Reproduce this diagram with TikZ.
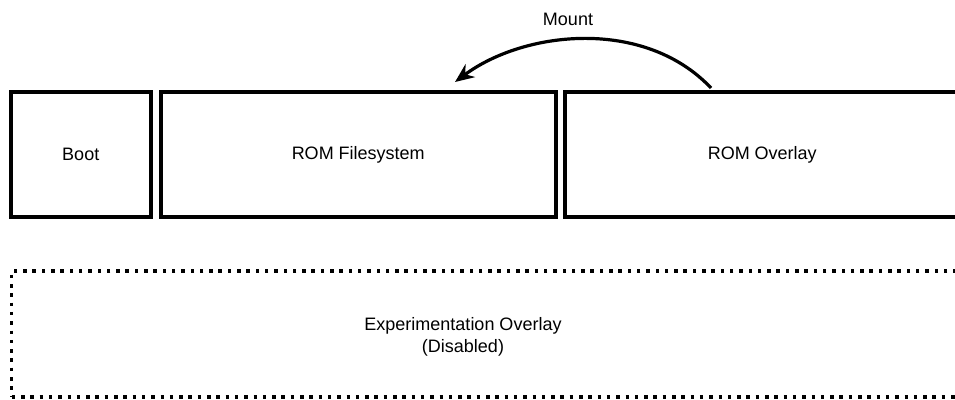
\documentclass[tikz,border=0pt]{standalone}
\usepackage{fontspec}
\setmainfont{Liberation Sans}
\usetikzlibrary{arrows.meta,positioning}
\tikzset{
  part/.style={draw,rectangle,line width=4pt,minimum height=125pt,inner sep=0pt,font=\fontsize{18}{21}\selectfont},
  offpart/.style={draw,rectangle,line width=3.5pt,dash pattern=on 3.5pt off 5.8pt,minimum height=126pt,inner sep=0pt},
  lbl/.style={font=\fontsize{18}{22}\selectfont,align=center},
  arr/.style={-{Stealth[length=19pt,width=16pt]},line width=3.2pt}
}
\begin{document}
\begin{tikzpicture}[x=1pt,y=-1pt]
  \clip (0,0) rectangle (955,399);
  % Flash partitions
  \node[part, minimum width=140.5pt] (boot) at (80.75,154.5) {Boot};
  \node[part, minimum width=394.5pt] (romfs) at (358.25,154.5) {ROM Filesystem};
  \node[part, minimum width=395.5pt] (romovl) at (762.25,154.5) {ROM Overlay};

  % Disabled overlay
  \node[offpart, minimum width=1000pt] (expovl) at (511.7,334) {};
  \node[lbl] (explbl) at (463,337) {Experimentation Overlay\\(Disabled)};

  % Mount arrow
  \coordinate (mntsrc) at (711,88);
  \coordinate (mntdst) at (455,82);
  \draw[arr] (mntsrc) .. controls (645,18) and (525,30) .. (mntdst);
  \node[lbl] (mnt) at (568,19) {Mount};
\end{tikzpicture}
\end{document}
